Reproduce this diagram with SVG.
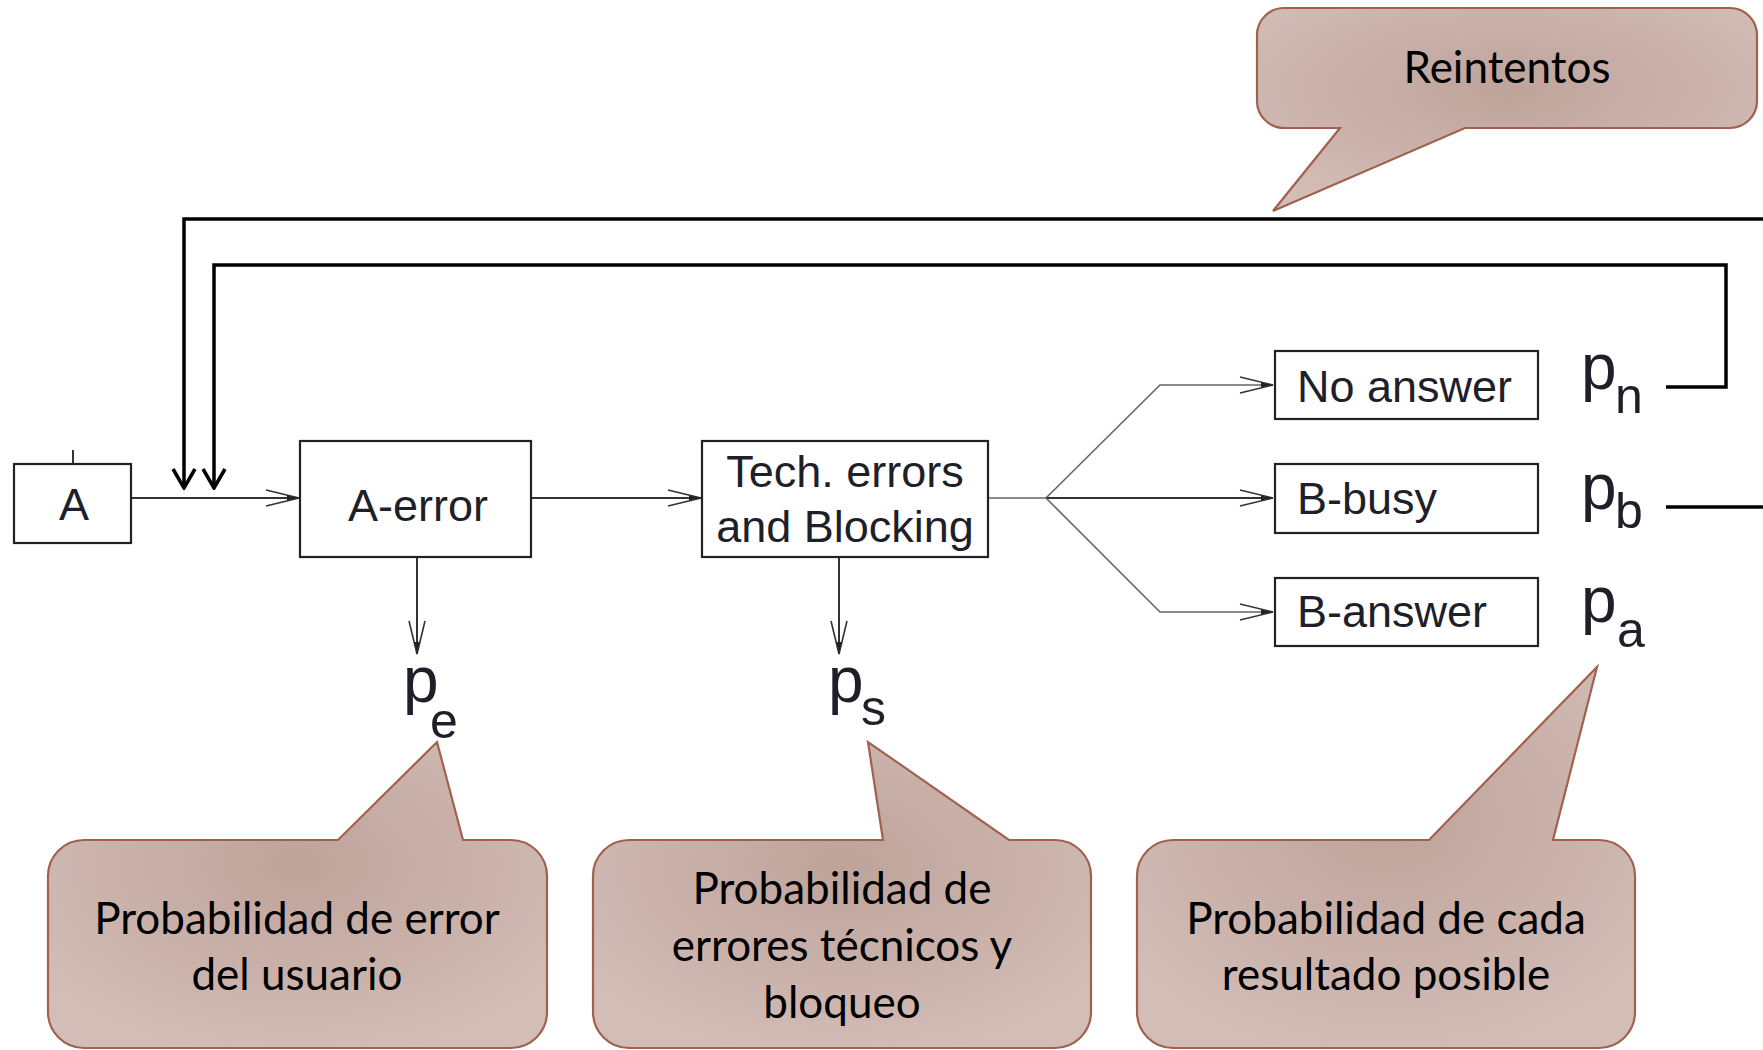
<svg xmlns="http://www.w3.org/2000/svg" width="1763" height="1050" viewBox="0 0 1763 1050">
  <defs>
    <radialGradient id="bubbleFill" cx="50%" cy="40%" r="65%">
      <stop offset="0" stop-color="#bea39a"/>
      <stop offset="1" stop-color="#d3bdb7"/>
    </radialGradient>
    <marker id="openArrow" viewBox="-34 -10 36 20" refX="0" refY="0" markerWidth="36" markerHeight="20" markerUnits="userSpaceOnUse" orient="auto">
      <path d="M -33 -8 L 0 0 L -33 8" fill="none" stroke="#333" stroke-width="1.6"/>
      <path d="M -12 -2.5 L 0 0 L -12 2.5 Z" fill="#222"/>
    </marker>
    <marker id="boldArrow" viewBox="-22 -14 24 28" refX="0" refY="0" markerWidth="24" markerHeight="28" markerUnits="userSpaceOnUse" orient="auto">
      <path d="M -19 -11 L 0 0 L -19 11" fill="none" stroke="#000" stroke-width="3.5" stroke-linejoin="miter"/>
    </marker>
    <style>
      .box { fill: #fff; stroke: #222; stroke-width: 2.2; }
      .lbl { font-family: "Liberation Sans", Arial, sans-serif; font-size: 45px; fill: #1f1f2a; }
      .prob { font-family: "Liberation Sans", Arial, sans-serif; font-size: 64px; fill: #1f1f2a; }
      .sub { font-size: 50px; }
      .thin { fill: none; stroke: #333; stroke-width: 2; }
      .fan { fill: none; stroke: #666; stroke-width: 1.6; }
      .loop { fill: none; stroke: #000; stroke-width: 3.5; }
      .bubble { fill: url(#bubbleFill); stroke: #a2614e; stroke-width: 2.2; }
      .note { font-family: Lato, "Open Sans", sans-serif; font-size: 44px; fill: #000; text-anchor: middle; }
    </style>
  </defs>

  <!-- connectors -->
  <g id="connectors">
    <!-- input tick above A -->
    <line class="thin" x1="73" y1="450" x2="73" y2="464"/>
    <!-- main flow -->
    <line class="thin" x1="131" y1="498" x2="299" y2="498" marker-end="url(#openArrow)"/>
    <line class="thin" x1="531" y1="498" x2="701" y2="498" marker-end="url(#openArrow)"/>
    <line class="thin" x1="417" y1="557" x2="417" y2="654" marker-end="url(#openArrow)"/>
    <line class="thin" x1="839" y1="557" x2="839" y2="654" marker-end="url(#openArrow)"/>
    <!-- outcome fan -->
    <line class="fan" x1="988" y1="498" x2="1046" y2="498"/>
    <polyline class="fan" points="1046,498 1160,385 1273,385" marker-end="url(#openArrow)"/>
    <line class="thin" x1="1046" y1="498" x2="1273" y2="498" marker-end="url(#openArrow)"/>
    <polyline class="fan" points="1046,498 1160,612 1273,612" marker-end="url(#openArrow)"/>
    <!-- retry loops -->
    <polyline class="loop" points="1763,219 184,219 184,488" marker-end="url(#boldArrow)"/>
    <polyline class="loop" points="1666,387 1726,387 1726,265 214,265 214,488" marker-end="url(#boldArrow)"/>
    <line class="loop" x1="1666" y1="507" x2="1763" y2="507"/>
  </g>

  <!-- process blocks -->
  <g id="node-a">
    <rect class="box" x="14" y="464" width="117" height="79"/>
    <text class="lbl" x="74" y="520" text-anchor="middle">A</text>
  </g>
  <g id="node-a-error">
    <rect class="box" x="300" y="441" width="231" height="116"/>
    <text class="lbl" x="418" y="521" text-anchor="middle">A-error</text>
  </g>
  <g id="node-tech">
    <rect class="box" x="702" y="441" width="286" height="116"/>
    <text class="lbl" x="845" y="487" text-anchor="middle">Tech. errors</text>
    <text class="lbl" x="845" y="542" text-anchor="middle">and Blocking</text>
  </g>
  <g id="node-no-answer">
    <rect class="box" x="1275" y="351" width="263" height="68"/>
    <text class="lbl" x="1297" y="402">No answer</text>
  </g>
  <g id="node-b-busy">
    <rect class="box" x="1275" y="464" width="263" height="69"/>
    <text class="lbl" x="1297" y="514">B-busy</text>
  </g>
  <g id="node-b-answer">
    <rect class="box" x="1275" y="578" width="263" height="68"/>
    <text class="lbl" x="1297" y="627">B-answer</text>
  </g>

  <!-- probabilities -->
  <g id="prob-n">
    <text class="prob" x="1581" y="389">p<tspan class="sub" x="1615" y="413">n</tspan></text>
  </g>
  <g id="prob-b">
    <text class="prob" x="1581" y="509">p<tspan class="sub" x="1615" y="528">b</tspan></text>
  </g>
  <g id="prob-a">
    <text class="prob" x="1581" y="622">p<tspan class="sub" x="1617" y="647">a</tspan></text>
  </g>
  <g id="prob-e">
    <text class="prob" x="403" y="702">p<tspan class="sub" x="430" y="738">e</tspan></text>
  </g>
  <g id="prob-s">
    <text class="prob" x="828" y="702">p<tspan class="sub" x="861" y="725">s</tspan></text>
  </g>

  <!-- callouts -->
  <g id="callout-retries">
    <path class="bubble" d="M 1284 8 H 1730 A 27 27 0 0 1 1757 35 V 101 A 27 27 0 0 1 1730 128 H 1465 L 1273 211 L 1340 128 H 1284 A 27 27 0 0 1 1257 101 V 35 A 27 27 0 0 1 1284 8 Z"/>
    <text class="note" x="1507" y="83">Reintentos</text>
  </g>
  <g id="callout-user-error">
    <path class="bubble" d="M 84 840 H 338 L 437 742 L 463 840 H 511 A 36 36 0 0 1 547 876 V 1012 A 36 36 0 0 1 511 1048 H 84 A 36 36 0 0 1 48 1012 V 876 A 36 36 0 0 1 84 840 Z"/>
    <text class="note" x="297" y="934">Probabilidad de error</text>
    <text class="note" x="297" y="990">del usuario</text>
  </g>
  <g id="callout-tech-error">
    <path class="bubble" d="M 629 840 H 883 L 868 742 L 1009 840 H 1055 A 36 36 0 0 1 1091 876 V 1012 A 36 36 0 0 1 1055 1048 H 629 A 36 36 0 0 1 593 1012 V 876 A 36 36 0 0 1 629 840 Z"/>
    <text class="note" x="842" y="904">Probabilidad de</text>
    <text class="note" x="842" y="961">errores técnicos y</text>
    <text class="note" x="842" y="1018">bloqueo</text>
  </g>
  <g id="callout-outcomes">
    <path class="bubble" d="M 1173 840 H 1429 L 1597 667 L 1553 840 H 1599 A 36 36 0 0 1 1635 876 V 1012 A 36 36 0 0 1 1599 1048 H 1173 A 36 36 0 0 1 1137 1012 V 876 A 36 36 0 0 1 1173 840 Z"/>
    <text class="note" x="1386" y="934">Probabilidad de cada</text>
    <text class="note" x="1386" y="990">resultado posible</text>
  </g>
</svg>
